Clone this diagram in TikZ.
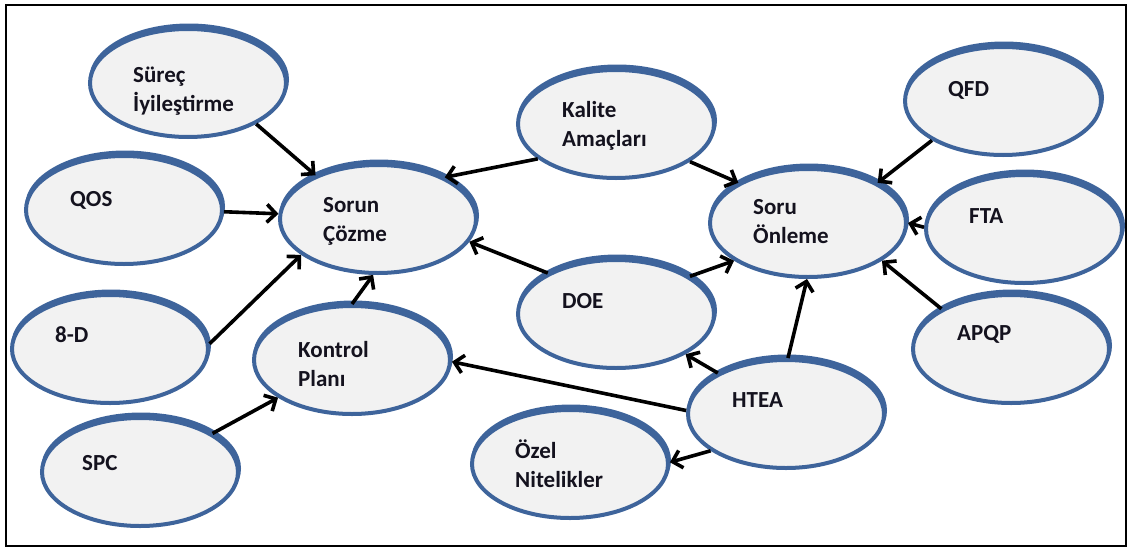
\documentclass[tikz,border=0pt]{standalone}
\usepackage{fontspec}
\setmainfont{Carlito}
\usetikzlibrary{arrows.meta,shapes.geometric}
\definecolor{ellblue}{RGB}{62,100,155}
\definecolor{ellfill}{RGB}{242,242,242}
\definecolor{txt}{RGB}{20,18,30}
\newcommand\myell[3]{%
  \fill[ellblue] (#2+1,#3-3.5) ellipse [x radius=100, y radius=56];
  \node[ell] (#1) at (#2,#3) {};
}
\newcommand\mylbl[4]{%
  \node[lbl] (#1) at (#2,#3) {\begin{tabular}[t]{@{}l@{}}#4\end{tabular}};
}
\begin{document}
\begin{tikzpicture}[x=1pt,y=-1pt,
  ell/.style={ellipse, minimum width=196pt, minimum height=108pt, inner sep=0pt,
    draw=ellblue, line width=4pt, fill=ellfill},
  lbl/.style={anchor=base west, inner sep=0pt, text=txt,
    font=\fontsize{23}{29}\selectfont\bfseries},
  conn/.style={draw=black, line width=3.6pt,
    -{Straight Barb[length=9pt,width=18pt,line width=3.6pt]}}]
\useasboundingbox (0,0) rectangle (1129,549);
\draw[line width=2.5pt] (6,5) rectangle (1126,546);

\myell{sur}{188}{83}
\myell{qos}{124}{210}
\myell{d8}{110}{349}
\myell{spc}{140}{472}
\myell{sc}{378}{219}
\myell{kp}{352}{360}
\myell{ka}{616}{124}
\myell{doe}{616}{314}
\myell{so}{808}{223}
\myell{qfd}{1003}{101}
\myell{fta}{1024}{229}
\myell{apqp}{1011}{349}
\myell{htea}{786}{414}
\myell{ozel}{570}{464}

\mylbl{sur-t}{133}{82}{Süreç\\İyileştirme}
\mylbl{qos-t}{70}{206}{QOS}
\mylbl{d8-t}{55}{342}{8-D}
\mylbl{spc-t}{82}{470}{SPC}
\mylbl{sc-t}{323}{212}{Sorun\\Çözme}
\mylbl{kp-t}{298}{357}{Kontrol\\Planı}
\mylbl{ka-t}{562}{117}{Kalite\\Amaçları}
\mylbl{doe-t}{562}{308}{DOE}
\mylbl{so-t}{753}{214}{Soru\\Önleme}
\mylbl{qfd-t}{948}{96}{QFD}
\mylbl{fta-t}{969}{223}{FTA}
\mylbl{apqp-t}{957}{340}{APQP}
\mylbl{htea-t}{732}{407}{HTEA}
\mylbl{ozel-t}{515}{458}{Özel\\Nitelikler}

\draw[conn] (sur.-31) -- (sc.145);
\draw[conn] (qos.-1) -- (sc.177);
\draw[conn] (d8.3) -- (sc.205);
\draw[conn] (kp.90) -- (sc.265);
\draw[conn] (spc.28) -- (kp.207);
\draw[conn] (ka.204) -- (sc.32);
\draw[conn] (ka.-27) -- (so.150);
\draw[conn] (doe.149) -- (sc.-14);
\draw[conn] (doe.27) -- (so.207);
\draw[conn] (htea.149) -- (doe.-30);
\draw[conn] (htea.178) -- (kp.-1);
\draw[conn] (htea.88) -- (so.269);
\draw[conn] (htea.206) -- (ozel.1);
\draw[conn] (qfd.209) -- (so.30);
\draw[conn] (fta.179) -- (so.0);
\draw[conn] (apqp.150) -- (so.-27);
\end{tikzpicture}
\end{document}
